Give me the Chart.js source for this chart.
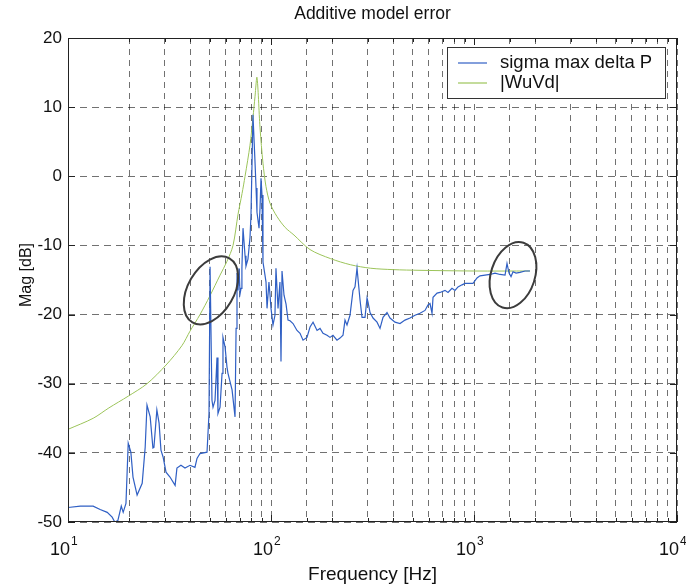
<!DOCTYPE html>
<html>
<head>
<meta charset="utf-8">
<script src="https://cdn.jsdelivr.net/npm/chart.js@4/dist/chart.umd.min.js"></script>
<style>
  html, body { margin: 0; padding: 0; background: #fff; }
  #chart { display: block; }
</style>
</head>
<body>
<canvas id="chart" width="686" height="586"></canvas>
<script>
// Values (frequency in Hz, magnitude in dB)
const blueFreq = [10, 11.5, 13.3, 14.4, 15.6, 16.5, 17.0, 17.6, 18.3, 18.7, 19.3, 19.8, 20.4, 20.9, 21.9, 23.2, 24.0, 24.5, 25.4, 26.2,
  26.5, 27.4, 28.1, 28.7, 29.4, 30.4, 31.8, 33.7, 34.4, 36.0, 37.7, 39.9, 42.2, 43.2, 44.7, 48.4, 49.5, 50.1, 51.2, 51.8,
  53.0, 54.2, 54.8, 56.1, 57.4, 58.0, 59.4, 60.7, 61.4, 64.3, 66.5, 67.3, 68.0, 68.8, 69.6, 70.4, 71.2, 71.9, 72.8, 74.5,
  75.3, 77.0, 78.8, 79.7, 80.6, 81.5, 83.4, 84.4, 85.3, 87.3, 88.3, 89.3, 90.3, 91.3, 93.4, 94.5, 95.6, 97.7, 98.9, 100,
  102.3, 104.6, 105.8, 108.3, 110.7, 112.0, 113.3, 115.9, 118.6, 121.3, 124.1, 128.4, 134.3, 139.0, 143.8, 150.4, 155.7, 161.1, 168.6, 174.4,
  180.4, 188.8, 195.3, 202.0, 211.4, 218.7, 226.3, 231.5, 236.8, 245.0, 253.5, 259.3, 265.3, 274.5, 280.8, 290.5, 297.2, 300.6, 307.5, 318.2,
  332.9, 344.4, 356.3, 372.8, 385.7, 408.2, 432.0, 457.1, 483.8, 512.1, 542.0, 573.6, 593.5, 607.2, 621.2, 628.3, 657.6, 680.4, 719.6, 744.6,
  779.1, 806.1, 834.1, 873.0, 903.0, 955.7, 988.7, 1035, 1070, 1133, 1199, 1269, 1344, 1422, 1454, 1488, 1522, 1557, 1611, 1685,
  1784, 1887];
const blueMag = [-47.9, -47.7, -47.7, -48.2, -48.6, -49.3, -50.0, -49.8, -47.7, -48.6, -47.3, -38.6, -39.9, -43.5, -46.1, -44.4, -39.2, -33.1, -34.8, -39.3,
  -39.2, -33.8, -35.7, -39.6, -40.6, -42.8, -43.5, -44.7, -42.2, -41.8, -42.2, -41.8, -42.1, -40.8, -40.1, -39.9, -34.3, -13.1, -32.4, -33.4,
  -32.4, -26.2, -34.3, -33.4, -28.5, -23.3, -24.7, -27.6, -28.5, -30.9, -34.8, -22.0, -14.0, -16.5, -13.3, -17.0, -16.2, -13.3, -7.5, -11.5,
  -13.0, -12.0, -8.9, -5.6, 1.6, 8.9, 2.1, -1.7, -5.2, -7.5, -4.6, -0.3, -2.7, -12.4, -14.3, -15.3, -19.1, -15.3, -17.2, -19.1,
  -21.5, -20.1, -13.3, -19.1, -15.3, -26.8, -13.7, -17.2, -18.5, -20.8, -20.9, -21.3, -22.3, -22.7, -23.7, -23.3, -21.8, -21.1, -22.3, -22.0,
  -22.7, -23.0, -23.3, -23.0, -23.7, -23.4, -23.0, -20.8, -21.5, -20.1, -16.5, -16.0, -13.3, -17.9, -20.4, -20.4, -17.6, -18.2, -19.7, -20.5,
  -21.1, -22.0, -20.4, -19.7, -20.5, -21.1, -21.3, -20.8, -20.5, -20.1, -19.8, -19.4, -18.6, -18.4, -19.8, -17.5, -16.9, -16.8, -16.5, -16.8,
  -16.2, -16.5, -16.0, -15.7, -15.5, -15.5, -15.5, -14.7, -14.4, -14.3, -14.2, -14.0, -14.2, -14.3, -12.6, -14.0, -14.5, -13.8, -14.0, -13.9,
  -13.7, -13.7];

const greenFreq = [10, 13.3, 15.9, 19.8, 24.5, 30.4, 36.4, 39.9, 44.7, 50.0, 56.1, 60.7, 65.0, 68.8, 72.0, 74.5, 78.8, 81.5, 83.4, 85.3,
  88.3, 91.3, 94.5, 98.9, 106.9, 117.4, 129.8, 155.7, 196.2, 247.0, 310.0, 400.0, 542.0, 1000, 1887];
const greenMag = [-36.6, -35.0, -33.5, -31.8, -30.0, -27.3, -24.5, -22.4, -20.0, -17.3, -14.3, -12.3, -10.0, -5.5, -2.5, 0.0, 4.5, 8.5, 11.5, 14.3,
  7.0, 1.9, -1.5, -3.9, -5.8, -7.4, -8.5, -10.6, -11.9, -12.8, -13.3, -13.5, -13.6, -13.7, -13.7];

const seriesLabels = ['sigma max delta P', '|WuVd|'];
const yTicks = [20, 10, 0, -10, -20, -30, -40, -50];
const xDecades = [1, 2, 3, 4];

// hand-drawn marks on the original scan (center in data units, radii in px)
const circleFreq = [50.6, 1556];
const circleMag = [-16.5, -14.3];

const blueColor = '#2f5fc4';
const greenColor = '#9cc45a';
const font = '"Liberation Sans", Arial, sans-serif';

function pairs(xs, ys) {
  return xs.map((x, i) => ({ x: x, y: ys[i] }));
}

const frameAndLabels = {
  id: 'frameAndLabels',
  afterDatasetsDraw(chart) {
    const ctx = chart.ctx;
    const area = chart.chartArea;
    const xs = chart.scales.x;
    const ys = chart.scales.y;
    ctx.save();

    // circles
    ctx.strokeStyle = '#3c3c3c';
    ctx.lineWidth = 2;
    const rot = [-60, -72];
    const rx = [37, 34];
    const ry = [23, 22];
    circleFreq.forEach((f, i) => {
      ctx.beginPath();
      ctx.ellipse(xs.getPixelForValue(f), ys.getPixelForValue(circleMag[i]), rx[i], ry[i], rot[i] * Math.PI / 180, 0, Math.PI * 2);
      ctx.stroke();
    });

    // axes box and inward ticks
    ctx.strokeStyle = '#222';
    ctx.lineWidth = 1;
    ctx.strokeRect(area.left + 0.5, area.top + 0.5, area.right - area.left - 1, area.bottom - area.top - 1);
    ctx.beginPath();
    xs.ticks.forEach(t => {
      const px = Math.round(xs.getPixelForValue(t.value)) + 0.5;
      const len = xDecades.includes(Math.round(Math.log10(t.value) * 1000) / 1000) ? 7 : 4;
      ctx.moveTo(px, area.bottom); ctx.lineTo(px, area.bottom - len);
      ctx.moveTo(px, area.top); ctx.lineTo(px, area.top + len);
    });
    yTicks.forEach(v => {
      const py = Math.round(ys.getPixelForValue(v)) + 0.5;
      ctx.moveTo(area.left, py); ctx.lineTo(area.left + 7, py);
      ctx.moveTo(area.right, py); ctx.lineTo(area.right - 7, py);
    });
    ctx.stroke();

    // legend
    const lx = area.right - 230, ly = area.top + 9, lw = 218, lh = 51;
    ctx.fillStyle = '#fff';
    ctx.fillRect(lx, ly, lw, lh);
    ctx.strokeStyle = '#333';
    ctx.strokeRect(lx + 0.5, ly + 0.5, lw, lh);
    ctx.font = '18.5px ' + font;
    ctx.textBaseline = 'middle';
    ctx.textAlign = 'left';
    chart.data.datasets.forEach((ds, i) => {
      const yy = ly + 16 + i * 20;
      ctx.strokeStyle = ds.borderColor;
      ctx.lineWidth = 1.2;
      ctx.beginPath();
      ctx.moveTo(lx + 11, yy);
      ctx.lineTo(lx + 40, yy);
      ctx.stroke();
      ctx.fillStyle = '#111';
      ctx.fillText(ds.label, lx + 53, yy);
    });

    // x tick labels as 10^n
    ctx.fillStyle = '#111';
    xDecades.forEach(n => {
      const px = xs.getPixelForValue(Math.pow(10, n));
      ctx.font = '18px ' + font;
      ctx.textAlign = 'right';
      ctx.textBaseline = 'alphabetic';
      ctx.fillText('10', px + 2, area.bottom + 33);
      ctx.font = '12px ' + font;
      ctx.textAlign = 'left';
      ctx.fillText(String(n), px + 3, area.bottom + 23);
    });

    // titles
    ctx.textAlign = 'center';
    ctx.textBaseline = 'middle';
    ctx.font = '17.5px ' + font;
    ctx.fillText('Additive model error', (area.left + area.right) / 2, 14);
    ctx.font = '19px ' + font;
    ctx.fillText('Frequency [Hz]', (area.left + area.right) / 2, area.bottom + 53);
    ctx.font = '16px ' + font;
    ctx.translate(27, (area.top + area.bottom) / 2 - 5);
    ctx.rotate(-Math.PI / 2);
    ctx.fillText('Mag [dB]', 0, 0);
    ctx.restore();
  }
};

const chart = new Chart(document.getElementById('chart'), {
  type: 'line',
  data: {
    datasets: [{
      label: seriesLabels[0],
      data: pairs(blueFreq, blueMag),
      borderColor: blueColor,
      borderWidth: 1.2,
      pointRadius: 0,
      tension: 0
    }, {
      label: seriesLabels[1],
      data: pairs(greenFreq, greenMag),
      borderColor: greenColor,
      borderWidth: 1,
      pointRadius: 0,
      tension: 0.3
    }]
  },
  options: {
    responsive: false,
    animation: false,
    devicePixelRatio: 1,
    layout: { padding: { top: 38, right: 9, left: 0, bottom: 0 } },
    plugins: {
      legend: { display: false },
      title: { display: false },
      tooltip: { enabled: false }
    },
    scales: {
      x: {
        type: 'logarithmic',
        min: 10,
        max: 10000,
        afterFit(scale) { scale.height = 64; },
        ticks: {
          autoSkip: false,
          callback: () => ''
        },
        grid: {
          color: 'rgba(0,0,0,0.7)',
          lineWidth: 0.8,
          drawTicks: false
        },
        border: { display: false, dash: [6, 5] }
      },
      y: {
        min: -50,
        max: 20,
        afterFit(scale) { scale.width = 68; },
        afterBuildTicks(scale) { scale.ticks = yTicks.map(v => ({ value: v })); },
        ticks: {
          padding: 6,
          color: '#111',
          font: { family: font, size: 17 },
          callback: (v) => String(v)
        },
        grid: {
          color: 'rgba(0,0,0,0.7)',
          lineWidth: 0.8,
          drawTicks: false
        },
        border: { display: false, dash: [7, 5] }
      }
    }
  },
  plugins: [frameAndLabels]
});
</script>
</body>
</html>
